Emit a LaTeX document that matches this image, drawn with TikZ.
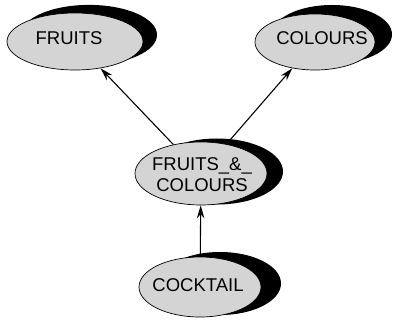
\documentclass[tikz,border=0pt]{standalone}
\usepackage{fontspec}
\setmainfont{Liberation Sans}
\usetikzlibrary{shapes.geometric,backgrounds,arrows.meta}
\begin{document}
\begin{tikzpicture}[x=1pt,y=-1pt,
  blob/.style={ellipse, draw=black, line width=0.7pt, fill=black!17, inner sep=0pt},
  shadowfill/.style={fill=black},
  txt/.style={font=\fontsize{18.5}{21}\selectfont, align=center, inner sep=0pt},
  arr/.style={-{Stealth[length=13pt,width=7.5pt]}, line width=1.1pt}]
\useasboundingbox (0,0) rectangle (399,320);
\node[blob, minimum width=136pt, minimum height=57pt,
  label={[txt, xshift=-6pt, yshift=3pt]center:FRUITS}] (fruits) at (75,41.5) {};
\node[blob, minimum width=120pt, minimum height=56pt,
  label={[txt, xshift=7pt, yshift=4pt]center:COLOURS}] (colours) at (315,42) {};
\node[blob, minimum width=132pt, minimum height=63pt,
  label={[txt, xshift=1pt, yshift=-1pt]center:FRUITS\_\&\_\\COLOURS}] (fc) at (201,173.5) {};
\node[blob, minimum width=122pt, minimum height=60pt,
  label={[txt, xshift=-2pt, yshift=1.5pt]center:COCKTAIL}] (cocktail) at (200,287) {};
\begin{scope}[on background layer]
  \fill[shadowfill] ([shift={(14pt,6.6pt)}]fruits.center) ellipse [x radius=68pt, y radius=30pt];
  \fill[shadowfill] ([shift={(17pt,7.6pt)}]colours.center) ellipse [x radius=60pt, y radius=29.4pt];
  \fill[shadowfill] ([shift={(16pt,2pt)}]fc.center) ellipse [x radius=66pt, y radius=33pt];
  \fill[shadowfill] ([shift={(20pt,3.5pt)}]cocktail.center) ellipse [x radius=61pt, y radius=31.5pt];
\end{scope}
\draw[arr] (fc) -- (fruits);
\draw[arr] (fc) -- (colours);
\draw[arr] (cocktail) -- (fc);
\end{tikzpicture}
\end{document}
